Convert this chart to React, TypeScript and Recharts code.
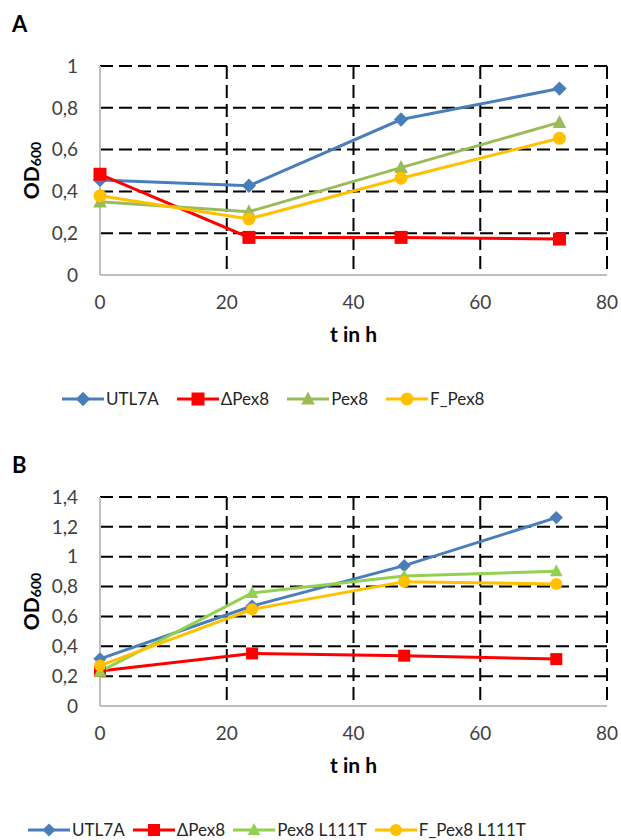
import React from "react";
import {
  LineChart,
  Line,
  XAxis,
  YAxis,
  CartesianGrid,
  Legend,
} from "recharts";

// Panel A: time points and OD600 values
const timesA = [0, 23.5, 47.5, 72.5];
const utl7aA = [0.455, 0.427, 0.744, 0.892];
const deltaPex8A = [0.482, 0.18, 0.18, 0.172];
const pex8A = [0.35, 0.303, 0.514, 0.73];
const fPex8A = [0.379, 0.268, 0.463, 0.654];

// Panel B
const timesB = [0, 24, 48, 72];
const utl7aB = [0.316, 0.67, 0.94, 1.262];
const deltaPex8B = [0.235, 0.352, 0.337, 0.314];
const pex8L111TB = [0.23, 0.757, 0.87, 0.903];
const fPex8L111TB = [0.271, 0.648, 0.833, 0.818];

const xTicks = [0, 20, 40, 60, 80];
const yTicksA = [0, 0.2, 0.4, 0.6, 0.8, 1];
const yTicksB = [0, 0.2, 0.4, 0.6, 0.8, 1, 1.2, 1.4];

const FONT = "Lato, 'Open Sans', sans-serif";

type Shape = "diamond" | "square" | "triangle" | "circle";

interface Series {
  key: string;
  name: string;
  color: string;
  shape: Shape;
  values: number[];
}

const seriesA: Series[] = [
  { key: "utl7a", name: "UTL7A", color: "#4a7ebb", shape: "diamond", values: utl7aA },
  { key: "dpex8", name: "ΔPex8", color: "#ff0000", shape: "square", values: deltaPex8A },
  { key: "pex8", name: "Pex8", color: "#9bbb59", shape: "triangle", values: pex8A },
  { key: "fpex8", name: "F_Pex8", color: "#ffc000", shape: "circle", values: fPex8A },
];

const seriesB: Series[] = [
  { key: "utl7a", name: "UTL7A", color: "#4a7ebb", shape: "diamond", values: utl7aB },
  { key: "dpex8", name: "ΔPex8", color: "#ff0000", shape: "square", values: deltaPex8B },
  { key: "pex8", name: "Pex8 L111T", color: "#92d050", shape: "triangle", values: pex8L111TB },
  { key: "fpex8", name: "F_Pex8 L111T", color: "#ffc000", shape: "circle", values: fPex8L111TB },
];

function buildRows(times: number[], series: Series[]) {
  return times.map((t, i) => {
    const row: Record<string, number> = { t };
    series.forEach((s) => (row[s.key] = s.values[i]));
    return row;
  });
}

function Marker({ shape, cx, cy, color, size }: { shape: Shape; cx: number; cy: number; color: string; size: number }) {
  const h = size / 2;
  if (shape === "diamond") {
    const d = h * 1.1;
    return <polygon points={`${cx},${cy - d} ${cx + d},${cy} ${cx},${cy + d} ${cx - d},${cy}`} fill={color} />;
  }
  if (shape === "square") {
    return <rect x={cx - h} y={cy - h} width={size} height={size} fill={color} />;
  }
  if (shape === "triangle") {
    return (
      <polygon
        points={`${cx},${cy - h * 1.15} ${cx + h * 1.05},${cy + h * 0.85} ${cx - h * 1.05},${cy + h * 0.85}`}
        fill={color}
      />
    );
  }
  return <circle cx={cx} cy={cy} r={h} fill={color} />;
}

function LegendRow({ series, gap, size }: { series: Series[]; gap: number; size: number }) {
  return (
    <div style={{ display: "flex", alignItems: "center", fontFamily: FONT, fontSize: 17, color: "#262626", whiteSpace: "nowrap" }}>
      {series.map((s) => (
        <div key={s.key} style={{ display: "flex", alignItems: "center", marginRight: gap }}>
          <svg width={42} height={16}>
            <line x1={0} y1={8} x2={42} y2={8} stroke={s.color} strokeWidth={3} />
            <Marker shape={s.shape} cx={21} cy={8} color={s.color} size={size} />
          </svg>
          <span style={{ marginLeft: 2 }}>{s.name}</span>
        </div>
      ))}
    </div>
  );
}

function OdLabel(props: any) {
  const vb = props.viewBox || {};
  const x = 30;
  const y = (vb.y ?? 0) + (vb.height ?? 0) / 2;
  return (
    <text
      x={x}
      y={y}
      transform={`rotate(-90, ${x}, ${y})`}
      textAnchor="middle"
      dominantBaseline="central"
      fontFamily={FONT}
      fontWeight="bold"
      fontSize={21}
      fill="#000"
    >
      <tspan>OD</tspan>
      <tspan fontSize={14} dy={5}>600</tspan>
    </text>
  );
}

const fmt = (v: number) => String(v).replace(".", ",");

function Panel({
  top,
  series,
  times,
  yMax,
  yTicks,
  legendLeft,
  legendGap,
  markerSize,
}: {
  top: number;
  series: Series[];
  times: number[];
  yMax: number;
  yTicks: number[];
  legendLeft: number;
  legendGap: number;
  markerSize: number;
}) {
  const rows = buildRows(times, series);
  return (
    <div style={{ position: "absolute", left: 0, top }}>
      <LineChart
        width={621}
        height={420}
        data={rows}
        margin={{ top: 66, right: 14, left: 0, bottom: 24 }}
        style={{ fontFamily: FONT }}
      >
        <CartesianGrid stroke="#000" strokeWidth={2} strokeDasharray="13 6" />
        <XAxis
          dataKey="t"
          type="number"
          domain={[0, 80]}
          ticks={xTicks}
          height={100}
          tickLine={false}
          axisLine={{ stroke: "#bfbfbf", strokeWidth: 2 }}
          tick={{ fill: "#404040", fontSize: 19 }}
          tickMargin={15}
          label={{
            value: "t in h",
            position: "insideTop",
            offset: 52,
            style: { fill: "#000", fontWeight: "bold", fontSize: 21, fontFamily: FONT },
          }}
        />
        <YAxis
          type="number"
          domain={[0, yMax]}
          ticks={yTicks}
          width={100}
          tickLine={false}
          axisLine={{ stroke: "#bfbfbf", strokeWidth: 2 }}
          tick={{ fill: "#404040", fontSize: 19 }}
          tickMargin={16}
          tickFormatter={fmt}
          label={<OdLabel />}
        />
        {series.map((s) => (
          <Line
            key={s.key}
            dataKey={s.key}
            name={s.name}
            stroke={s.color}
            strokeWidth={3}
            isAnimationActive={false}
            dot={(p: any) => (
              <Marker key={`${s.key}-${p.index}`} shape={s.shape} cx={p.cx} cy={p.cy} color={s.color} size={markerSize} />
            )}
            activeDot={false}
          />
        ))}
        <Legend
          verticalAlign="bottom"
          wrapperStyle={{ left: legendLeft, width: "auto", bottom: 11 }}
          content={() => <LegendRow series={series} gap={legendGap} size={markerSize} />}
        />
      </LineChart>
    </div>
  );
}

export default function App() {
  return (
    <div style={{ position: "absolute", left: 0, top: 0, width: 621, height: 840, background: "#fff", overflow: "hidden" }}>
      <Panel
        top={0}
        series={seriesA}
        times={timesA}
        yMax={1}
        yTicks={yTicksA}
        legendLeft={62}
        legendGap={18}
        markerSize={13}
      />
      <Panel
        top={431}
        series={seriesB}
        times={timesB}
        yMax={1.4}
        yTicks={yTicksB}
        legendLeft={28}
        legendGap={8}
        markerSize={12}
      />
      <div style={{ position: "absolute", left: 12, top: 10, fontFamily: FONT, fontWeight: "bold", fontSize: 22 }}>A</div>
      <div style={{ position: "absolute", left: 12, top: 451, fontFamily: FONT, fontWeight: "bold", fontSize: 22 }}>B</div>
    </div>
  );
}
